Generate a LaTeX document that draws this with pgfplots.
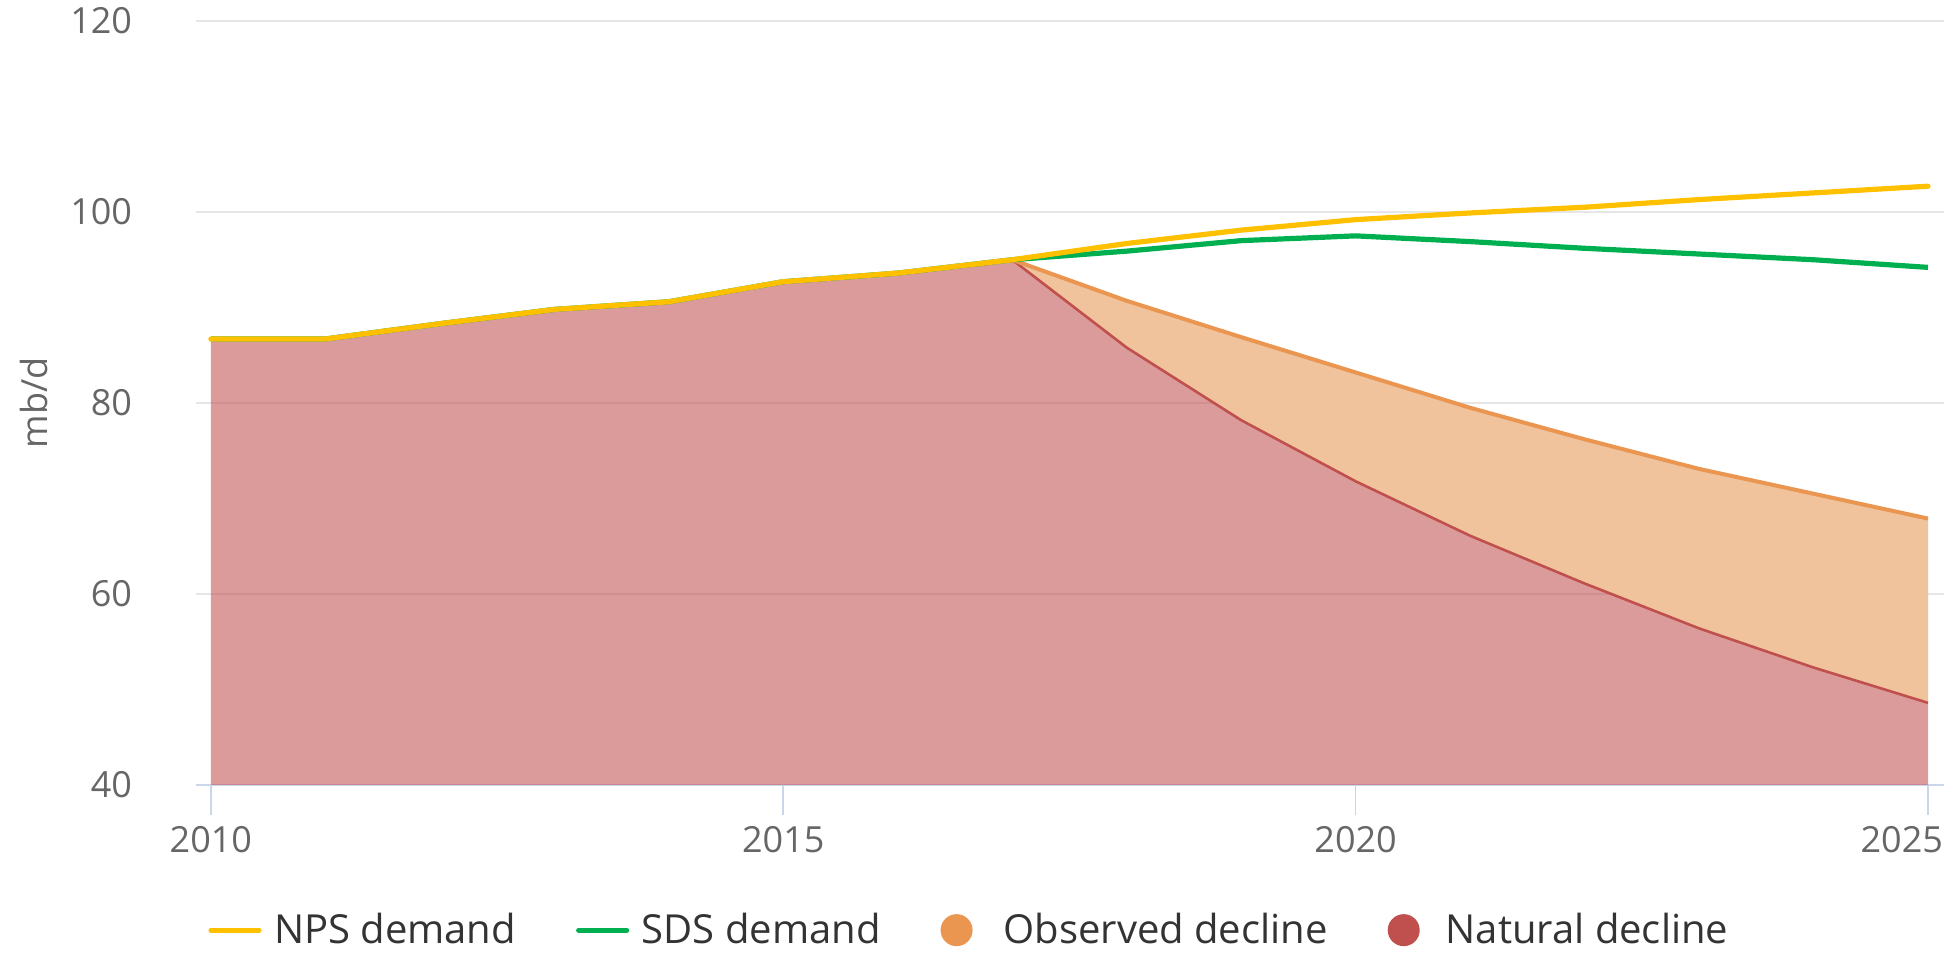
\documentclass[border=0pt]{standalone}
\usepackage{fontspec}
\setmainfont{Open Sans}
\usepackage{pgfplots}
\pgfplotsset{compat=1.18}
\definecolor{npsc}{RGB}{255,192,0}
\definecolor{sdsc}{RGB}{0,176,80}
\definecolor{obsl}{RGB}{234,150,81}
\definecolor{obsf}{RGB}{240,195,157}
\definecolor{natl}{RGB}{192,80,77}
\definecolor{tickc}{RGB}{102,102,102}
\definecolor{axc}{RGB}{204,214,235}
\definecolor{gridc}{RGB}{230,230,230}
\begin{document}
\begin{tikzpicture}
\begin{axis}[
  name=ax,
  scale only axis,
  width=874pt, height=382pt,
  xmin=2009.87, xmax=2025.14,
  ymin=40, ymax=120,
  xtick={2010,2015,2020},
  extra x ticks={2025},
  extra x tick style={xticklabel style={anchor=north east, xshift=11pt}},
  ytick={40,60,80,100,120},
  /pgf/number format/1000 sep={},
  /pgf/number format/assume math mode=true,
  ticklabel style={font=\fontsize{18}{21}\selectfont, text=tickc},
  ymajorgrids,
  grid style={gridc, line width=1pt},
  axis x line*=bottom,
  axis y line*=left,
  x axis line style={axc, line width=1.3pt, -},
  y axis line style={draw=none},
  xtick style={axc, line width=0.8pt},
  ytick style={draw=none},
  tick align=outside,
  major tick length=15pt,
  xticklabel style={yshift=-2pt},
  yticklabel style={xshift=-13.5pt},
  ylabel={mb/d},
  every axis y label/.style={at={(rel axis cs:0,0.5)}, xshift=-81pt, rotate=90, anchor=center,
     font=\fontsize{18}{21}\selectfont, text=tickc},
  legend style={draw=none, fill=none, font=\fontsize{20}{24}\selectfont, text=black!80,
    at={(axis description cs:0.443,-0.19)}, anchor=center,
    /tikz/every even column/.append style={column sep=28pt}},
  legend columns=4,
]
\addlegendimage{npsc, line width=2.6pt, legend image code/.code={\draw[line cap=round] (1pt,0pt) -- (25pt,0pt); \path[draw=none,fill=none] (0pt,0pt) rectangle (30.5pt,0pt);}}
\addlegendimage{sdsc, line width=2.6pt, legend image code/.code={\draw[line cap=round] (1pt,0pt) -- (25pt,0pt); \path[draw=none,fill=none] (0pt,0pt) rectangle (30.5pt,0pt);}}
\addlegendimage{draw=none, legend image code/.code={\fill[obsl] (8pt,0pt) circle (8pt); \path[draw=none,fill=none] (0pt,0pt) rectangle (29.5pt,0pt);}}
\addlegendimage{draw=none, legend image code/.code={\fill[natl] (8pt,0pt) circle (8pt); \path[draw=none,fill=none] (0pt,0pt) rectangle (27pt,0pt);}}
\legend{NPS demand, SDS demand, Observed decline, Natural decline}

% observed decline band (between observed and natural)
\addplot[forget plot, draw=none, fill=obsf] coordinates {
 (2017,95.0) (2018,90.7) (2019,86.9) (2020,83.2) (2021,79.5) (2022,76.2) (2023,73.1) (2024,70.5) (2025,67.9)
 (2025,48.6) (2024,52.3) (2023,56.4) (2022,61.1) (2021,66.1) (2020,71.8) (2019,78.2) (2018,85.8) (2017,95.0)
} -- cycle;
% natural decline area
\addplot[forget plot, draw=none, fill=natl, fill opacity=0.57] coordinates {
 (2010,86.7) (2011,86.7) (2012,88.3) (2013,89.8) (2014,90.6) (2015,92.7) (2016,93.6) (2017,95.0)
 (2018,85.8) (2019,78.2) (2020,71.8) (2021,66.1) (2022,61.1) (2023,56.4) (2024,52.3) (2025,48.6)
} \closedcycle;
% lines
\addplot[forget plot, natl, line width=1.3pt] coordinates {
 (2017,95.0) (2018,85.8) (2019,78.2) (2020,71.8) (2021,66.1) (2022,61.1) (2023,56.4) (2024,52.3) (2025,48.6)
};
\addplot[forget plot, obsl, line width=2pt] coordinates {
 (2017,95.0) (2018,90.7) (2019,86.9) (2020,83.2) (2021,79.5) (2022,76.2) (2023,73.1) (2024,70.5) (2025,67.9)
};
\addplot[forget plot, sdsc, line width=2.6pt] coordinates {
 (2010,86.7) (2011,86.7) (2012,88.3) (2013,89.8) (2014,90.6) (2015,92.7) (2016,93.6) (2017,95.0)
 (2018,95.9) (2019,97.0) (2020,97.5) (2021,96.9) (2022,96.2) (2023,95.6) (2024,95.0) (2025,94.2)
};
\addplot[forget plot, npsc, line width=2.6pt, line cap=round] coordinates {
 (2010,86.7) (2011,86.7) (2012,88.3) (2013,89.8) (2014,90.6) (2015,92.7) (2016,93.6) (2017,95.0)
 (2018,96.7) (2019,98.1) (2020,99.2) (2021,99.9) (2022,100.5) (2023,101.3) (2024,102.0) (2025,102.7)
};
\end{axis}
\path (ax.south west) ++(-98pt,-84.5pt) rectangle ++(978.5pt,477pt);
\end{tikzpicture}
\end{document}
